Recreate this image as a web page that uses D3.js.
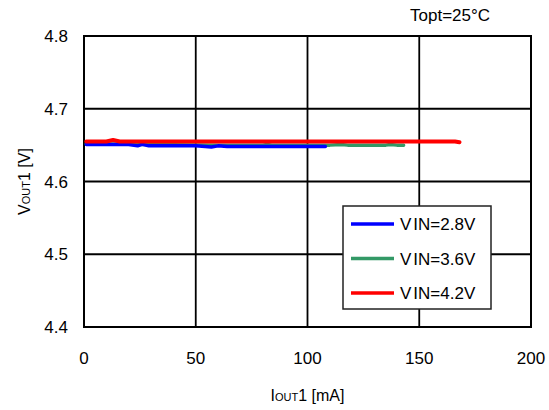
<!DOCTYPE html>
<html>
<head>
<meta charset="utf-8">
<script src="https://cdn.jsdelivr.net/npm/d3@7"></script>
<style>
  body { margin: 0; background: #fff; }
  text { font-family: "Liberation Sans", Arial, sans-serif; fill: #000; }
</style>
</head>
<body>
<div id="chart"></div>
<script>
const WIDTH = 549;
const HEIGHT = 410;

// data
const xTicks = [0, 50, 100, 150, 200];
const yTicks = [4.4, 4.5, 4.6, 4.7, 4.8];
const seriesNames = ["VIN=2.8V", "VIN=3.6V", "VIN=4.2V"];
const seriesColors = ["#0000ff", "#339966", "#ff0000"];

const iout28 = [1, 20, 24, 26, 29, 35, 50, 57, 60, 64, 80, 100, 108];
const vout28 = [4.651, 4.651, 4.649, 4.651, 4.649, 4.649, 4.649, 4.6475, 4.649, 4.648, 4.648, 4.648, 4.648];

const iout36 = [1, 30, 60, 80, 82, 84, 110, 115, 118, 135, 137, 140, 143];
const vout36 = [4.652, 4.651, 4.650, 4.650, 4.651, 4.650, 4.650, 4.651, 4.650, 4.650, 4.651, 4.650, 4.650];

const iout42 = [1, 10, 13, 16, 50, 100, 150, 166, 168];
const vout42 = [4.655, 4.655, 4.657, 4.655, 4.655, 4.655, 4.655, 4.655, 4.654];

const series = [
  { name: seriesNames[0], color: seriesColors[0], w: 3.5, pts: iout28.map((x, i) => [x, vout28[i]]) },
  { name: seriesNames[1], color: seriesColors[1], w: 3.5, pts: iout36.map((x, i) => [x, vout36[i]]) },
  { name: seriesNames[2], color: seriesColors[2], w: 4, pts: iout42.map((x, i) => [x, vout42[i]]) }
];
// green under blue, red on top
const drawOrder = [series[1], series[0], series[2]];

const margin = { left: 84, right: 18, top: 36, bottom: 83 };

const svg = d3.select("#chart").append("svg")
  .attr("width", WIDTH)
  .attr("height", HEIGHT);

const x = d3.scaleLinear().domain([0, 200]).range([margin.left, WIDTH - margin.right]);
const y = d3.scaleLinear().domain([4.4, 4.8]).range([HEIGHT - margin.bottom, margin.top]);

// grid
svg.append("g").selectAll("line.vg").data(xTicks.slice(1, -1)).enter()
  .append("line")
  .attr("x1", d => x(d)).attr("x2", d => x(d))
  .attr("y1", y(4.4)).attr("y2", y(4.8))
  .attr("stroke", "#000").attr("stroke-width", 1.8);

svg.append("g").selectAll("line.hg").data(yTicks.slice(1, -1)).enter()
  .append("line")
  .attr("x1", x(0)).attr("x2", x(200))
  .attr("y1", d => y(d)).attr("y2", d => y(d))
  .attr("stroke", "#000").attr("stroke-width", 1.8);

svg.append("rect")
  .attr("x", x(0)).attr("y", y(4.8))
  .attr("width", x(200) - x(0)).attr("height", y(4.4) - y(4.8))
  .attr("fill", "none").attr("stroke", "#000").attr("stroke-width", 2);

// tick labels
svg.append("g").selectAll("text").data(xTicks).enter()
  .append("text")
  .attr("x", d => x(d)).attr("y", 364)
  .attr("text-anchor", "middle")
  .style("font-size", "17px")
  .text(d => d);

svg.append("g").selectAll("text").data(yTicks).enter()
  .append("text")
  .attr("x", x(0) - 16).attr("y", d => y(d) + 6)
  .attr("text-anchor", "end")
  .style("font-size", "17px")
  .text(d => d.toFixed(1));

// lines
const line = d3.line().x(d => x(d[0])).y(d => y(d[1]));

svg.append("g").selectAll("path").data(drawOrder).enter()
  .append("path")
  .attr("d", d => line(d.pts))
  .attr("fill", "none")
  .attr("stroke", d => d.color)
  .attr("stroke-width", d => d.w)
  .attr("stroke-linejoin", "round")
  .attr("stroke-linecap", "round");

// legend
const legend = svg.append("g").attr("class", "legend");
legend.append("rect")
  .attr("x", 343).attr("y", 206)
  .attr("width", 148).attr("height", 103)
  .attr("fill", "#fff").attr("stroke", "#222").attr("stroke-width", 1.5);

legend.selectAll("line").data(series).enter()
  .append("line")
  .attr("x1", 351).attr("x2", 394)
  .attr("y1", (d, i) => 224 + i * 34.5).attr("y2", (d, i) => 224 + i * 34.5)
  .attr("stroke", d => d.color).attr("stroke-width", 3.5);

const lt = legend.selectAll("text").data(series).enter()
  .append("text")
  .attr("x", 400).attr("y", (d, i) => 230 + i * 34.5)
  .style("font-size", "17px");
lt.append("tspan").text("V");
lt.append("tspan").attr("dx", 2).text(d => d.name.slice(1));

// titles
svg.append("text")
  .attr("x", 410).attr("y", 21)
  .style("font-size", "17px")
  .text("Topt=25°C");

const xt = svg.append("text")
  .attr("x", x(100)).attr("y", 401)
  .attr("text-anchor", "middle")
  .style("font-size", "16px");
xt.append("tspan").text("I");
xt.append("tspan").style("font-size", "11px").text("OUT");
xt.append("tspan").text("1 [mA]");

const yt = svg.append("text")
  .attr("transform", `translate(30, ${y(4.6)}) rotate(-90)`)
  .attr("text-anchor", "middle")
  .style("font-size", "16px");
yt.append("tspan").text("V");
yt.append("tspan").style("font-size", "11px").text("OUT");
yt.append("tspan").text("1 [V]");
</script>
</body>
</html>
